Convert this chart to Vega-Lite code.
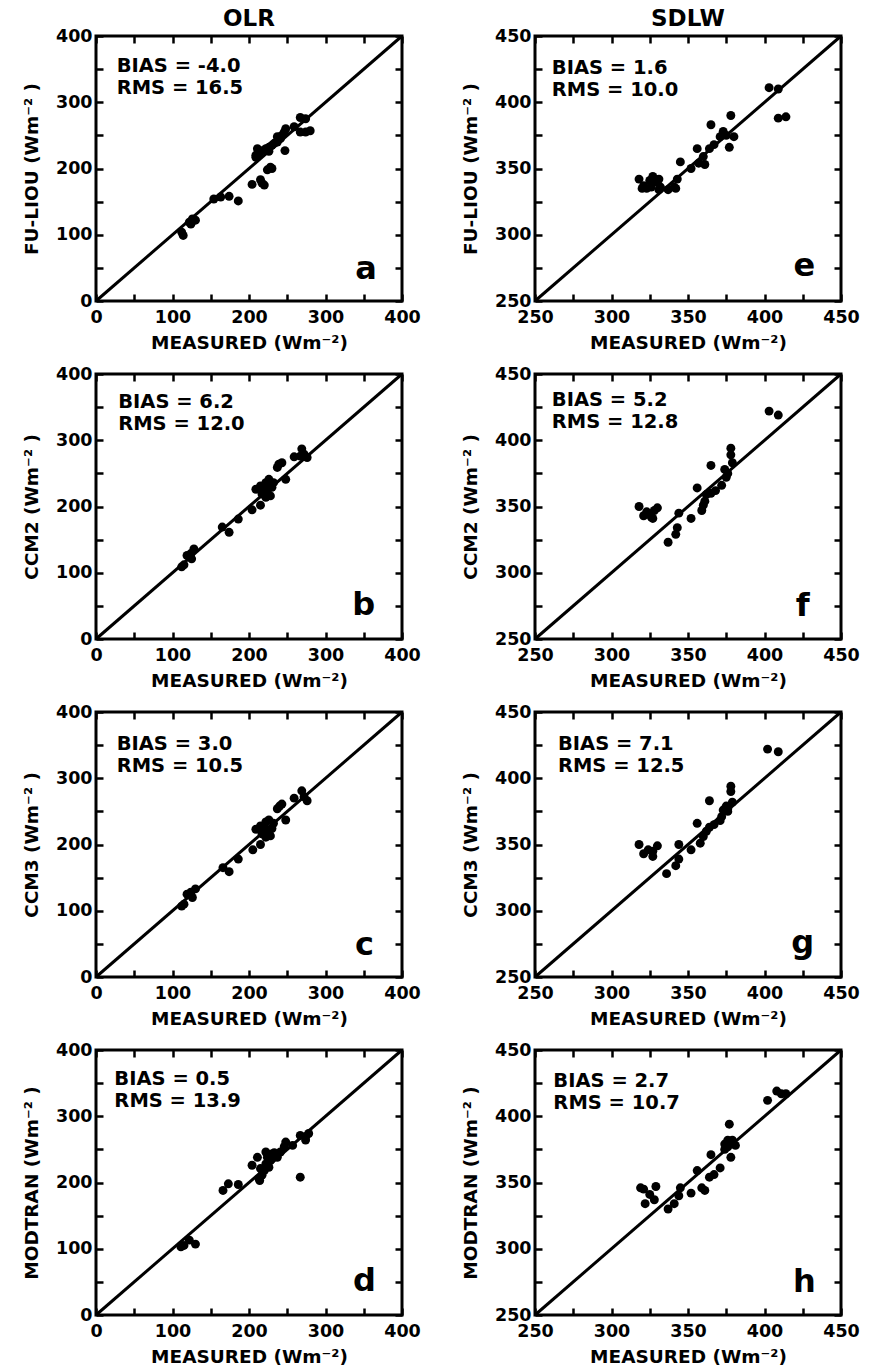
{
  "$schema": "https://vega.github.io/schema/vega-lite/v6.json",
  "background": "white",
  "padding": {"left": 20, "top": 6, "right": 5, "bottom": 0},
  "config": {
    "view": {"stroke": "black", "strokeWidth": 3},
    "axis": {"labelFont": "DejaVu Sans", "labelFontWeight": "bold", "labelFontSize": 17.5, "labelColor": "black", "titleFont": "DejaVu Sans", "titleFontWeight": "bold", "titleFontSize": 18.5, "titleColor": "black", "tickColor": "black", "tickWidth": 2.5, "tickSize": 7, "offset": -7, "domain": false, "grid": false, "labelFlush": false, "labelOverlap": false, "labelPadding": 7, "titlePadding": 8},
    "axisY": {"labelPadding": 4, "titlePadding": 14},
    "title": {"font": "DejaVu Sans", "fontWeight": "bold", "fontSize": 23, "color": "black", "offset": -4}
  },
  "data": {"values": [
    {"panel":"a","measured":112,"model":104},{"panel":"a","measured":114,"model":99},{"panel":"a","measured":122,"model":119},{"panel":"a","measured":126,"model":124},{"panel":"a","measured":130,"model":122},{"panel":"a","measured":124,"model":116},{"panel":"a","measured":154,"model":154},{"panel":"a","measured":163,"model":157},{"panel":"a","measured":174,"model":158},{"panel":"a","measured":186,"model":151},{"panel":"a","measured":204,"model":176},{"panel":"a","measured":217,"model":178},{"panel":"a","measured":215,"model":183},{"panel":"a","measured":220,"model":175},{"panel":"a","measured":209,"model":220},{"panel":"a","measured":213,"model":223},{"panel":"a","measured":217,"model":227},{"panel":"a","measured":222,"model":230},{"panel":"a","measured":226,"model":232},{"panel":"a","measured":230,"model":235},{"panel":"a","measured":237,"model":240},{"panel":"a","measured":241,"model":245},{"panel":"a","measured":243,"model":250},{"panel":"a","measured":237,"model":248},{"panel":"a","measured":246,"model":255},{"panel":"a","measured":248,"model":260},{"panel":"a","measured":224,"model":198},{"panel":"a","measured":230,"model":200},{"panel":"a","measured":228,"model":202},{"panel":"a","measured":247,"model":227},{"panel":"a","measured":259,"model":263},{"panel":"a","measured":267,"model":277},{"panel":"a","measured":274,"model":275},{"panel":"a","measured":267,"model":255},{"panel":"a","measured":274,"model":255},{"panel":"a","measured":280,"model":257},{"panel":"a","measured":211,"model":230},{"panel":"a","measured":209,"model":217},{"panel":"a","measured":233,"model":238},{"panel":"a","measured":226,"model":226},
    {"panel":"b","measured":112,"model":109},{"panel":"b","measured":115,"model":112},{"panel":"b","measured":119,"model":126},{"panel":"b","measured":125,"model":121},{"panel":"b","measured":128,"model":136},{"panel":"b","measured":124,"model":129},{"panel":"b","measured":165,"model":169},{"panel":"b","measured":174,"model":161},{"panel":"b","measured":186,"model":181},{"panel":"b","measured":204,"model":195},{"panel":"b","measured":215,"model":202},{"panel":"b","measured":209,"model":226},{"panel":"b","measured":215,"model":231},{"panel":"b","measured":222,"model":236},{"panel":"b","measured":217,"model":219},{"panel":"b","measured":224,"model":224},{"panel":"b","measured":228,"model":216},{"panel":"b","measured":226,"model":241},{"panel":"b","measured":230,"model":229},{"panel":"b","measured":237,"model":259},{"panel":"b","measured":243,"model":266},{"panel":"b","measured":239,"model":264},{"panel":"b","measured":248,"model":241},{"panel":"b","measured":259,"model":275},{"panel":"b","measured":269,"model":287},{"panel":"b","measured":272,"model":279},{"panel":"b","measured":276,"model":274},{"panel":"b","measured":267,"model":276},{"panel":"b","measured":222,"model":214},{"panel":"b","measured":220,"model":229},{"panel":"b","measured":232,"model":236},
    {"panel":"c","measured":112,"model":107},{"panel":"c","measured":115,"model":110},{"panel":"c","measured":119,"model":125},{"panel":"c","measured":126,"model":120},{"panel":"c","measured":130,"model":133},{"panel":"c","measured":124,"model":128},{"panel":"c","measured":166,"model":165},{"panel":"c","measured":174,"model":159},{"panel":"c","measured":186,"model":178},{"panel":"c","measured":205,"model":192},{"panel":"c","measured":215,"model":200},{"panel":"c","measured":209,"model":223},{"panel":"c","measured":215,"model":228},{"panel":"c","measured":222,"model":234},{"panel":"c","measured":217,"model":216},{"panel":"c","measured":224,"model":221},{"panel":"c","measured":228,"model":213},{"panel":"c","measured":226,"model":237},{"panel":"c","measured":237,"model":254},{"panel":"c","measured":243,"model":261},{"panel":"c","measured":248,"model":237},{"panel":"c","measured":259,"model":270},{"panel":"c","measured":269,"model":281},{"panel":"c","measured":272,"model":272},{"panel":"c","measured":276,"model":266},{"panel":"c","measured":222,"model":211},{"panel":"c","measured":220,"model":226},{"panel":"c","measured":232,"model":232},{"panel":"c","measured":240,"model":258},{"panel":"c","measured":230,"model":224},
    {"panel":"d","measured":111,"model":103},{"panel":"d","measured":115,"model":105},{"panel":"d","measured":122,"model":113},{"panel":"d","measured":130,"model":107},{"panel":"d","measured":166,"model":188},{"panel":"d","measured":173,"model":198},{"panel":"d","measured":186,"model":197},{"panel":"d","measured":204,"model":226},{"panel":"d","measured":213,"model":206},{"panel":"d","measured":217,"model":211},{"panel":"d","measured":215,"model":221},{"panel":"d","measured":222,"model":228},{"panel":"d","measured":226,"model":223},{"panel":"d","measured":224,"model":238},{"panel":"d","measured":230,"model":243},{"panel":"d","measured":228,"model":233},{"panel":"d","measured":237,"model":238},{"panel":"d","measured":241,"model":246},{"panel":"d","measured":246,"model":254},{"panel":"d","measured":248,"model":261},{"panel":"d","measured":257,"model":256},{"panel":"d","measured":267,"model":208},{"panel":"d","measured":267,"model":271},{"panel":"d","measured":274,"model":269},{"panel":"d","measured":278,"model":274},{"panel":"d","measured":274,"model":264},{"panel":"d","measured":211,"model":238},{"panel":"d","measured":222,"model":246},{"panel":"d","measured":214,"model":203},{"panel":"d","measured":233,"model":245},{"panel":"d","measured":220,"model":218},
    {"panel":"e","measured":318,"model":342},{"panel":"e","measured":321,"model":337},{"panel":"e","measured":325,"model":341},{"panel":"e","measured":320,"model":335},{"panel":"e","measured":323,"model":335},{"panel":"e","measured":327,"model":344},{"panel":"e","measured":329,"model":340},{"panel":"e","measured":331,"model":342},{"panel":"e","measured":326,"model":336},{"panel":"e","measured":331,"model":334},{"panel":"e","measured":337,"model":334},{"panel":"e","measured":332,"model":336},{"panel":"e","measured":341,"model":336},{"panel":"e","measured":343,"model":342},{"panel":"e","measured":342,"model":335},{"panel":"e","measured":345,"model":355},{"panel":"e","measured":352,"model":350},{"panel":"e","measured":356,"model":365},{"panel":"e","measured":360,"model":359},{"panel":"e","measured":361,"model":353},{"panel":"e","measured":357,"model":354},{"panel":"e","measured":365,"model":383},{"panel":"e","measured":364,"model":365},{"panel":"e","measured":367,"model":368},{"panel":"e","measured":371,"model":374},{"panel":"e","measured":373,"model":378},{"panel":"e","measured":375,"model":375},{"panel":"e","measured":377,"model":366},{"panel":"e","measured":378,"model":390},{"panel":"e","measured":380,"model":374},{"panel":"e","measured":403,"model":411},{"panel":"e","measured":409,"model":410},{"panel":"e","measured":409,"model":388},{"panel":"e","measured":414,"model":389},
    {"panel":"f","measured":318,"model":350},{"panel":"f","measured":321,"model":343},{"panel":"f","measured":323,"model":346},{"panel":"f","measured":326,"model":342},{"panel":"f","measured":328,"model":347},{"panel":"f","measured":330,"model":349},{"panel":"f","measured":327,"model":341},{"panel":"f","measured":337,"model":323},{"panel":"f","measured":342,"model":329},{"panel":"f","measured":343,"model":334},{"panel":"f","measured":344,"model":345},{"panel":"f","measured":352,"model":341},{"panel":"f","measured":356,"model":364},{"panel":"f","measured":359,"model":347},{"panel":"f","measured":361,"model":354},{"panel":"f","measured":362,"model":359},{"panel":"f","measured":365,"model":360},{"panel":"f","measured":368,"model":362},{"panel":"f","measured":365,"model":381},{"panel":"f","measured":372,"model":366},{"panel":"f","measured":374,"model":378},{"panel":"f","measured":376,"model":375},{"panel":"f","measured":378,"model":394},{"panel":"f","measured":378,"model":389},{"panel":"f","measured":379,"model":383},{"panel":"f","measured":403,"model":422},{"panel":"f","measured":409,"model":419},{"panel":"f","measured":360,"model":351},{"panel":"f","measured":375,"model":372},
    {"panel":"g","measured":318,"model":350},{"panel":"g","measured":321,"model":343},{"panel":"g","measured":324,"model":346},{"panel":"g","measured":327,"model":341},{"panel":"g","measured":330,"model":349},{"panel":"g","measured":327,"model":345},{"panel":"g","measured":336,"model":328},{"panel":"g","measured":342,"model":334},{"panel":"g","measured":344,"model":339},{"panel":"g","measured":344,"model":350},{"panel":"g","measured":352,"model":346},{"panel":"g","measured":356,"model":366},{"panel":"g","measured":358,"model":351},{"panel":"g","measured":360,"model":356},{"panel":"g","measured":362,"model":360},{"panel":"g","measured":364,"model":363},{"panel":"g","measured":367,"model":365},{"panel":"g","measured":364,"model":383},{"panel":"g","measured":372,"model":371},{"panel":"g","measured":373,"model":376},{"panel":"g","measured":376,"model":375},{"panel":"g","measured":378,"model":394},{"panel":"g","measured":378,"model":390},{"panel":"g","measured":379,"model":382},{"panel":"g","measured":376,"model":377},{"panel":"g","measured":402,"model":422},{"panel":"g","measured":409,"model":420},{"panel":"g","measured":371,"model":368},{"panel":"g","measured":375,"model":379},
    {"panel":"h","measured":319,"model":346},{"panel":"h","measured":322,"model":334},{"panel":"h","measured":325,"model":341},{"panel":"h","measured":329,"model":347},{"panel":"h","measured":328,"model":337},{"panel":"h","measured":321,"model":345},{"panel":"h","measured":337,"model":330},{"panel":"h","measured":341,"model":334},{"panel":"h","measured":344,"model":340},{"panel":"h","measured":345,"model":346},{"panel":"h","measured":352,"model":342},{"panel":"h","measured":356,"model":359},{"panel":"h","measured":359,"model":346},{"panel":"h","measured":361,"model":344},{"panel":"h","measured":364,"model":354},{"panel":"h","measured":365,"model":371},{"panel":"h","measured":367,"model":356},{"panel":"h","measured":371,"model":361},{"panel":"h","measured":374,"model":379},{"panel":"h","measured":376,"model":377},{"panel":"h","measured":377,"model":394},{"panel":"h","measured":378,"model":369},{"panel":"h","measured":379,"model":382},{"panel":"h","measured":381,"model":378},{"panel":"h","measured":402,"model":412},{"panel":"h","measured":408,"model":419},{"panel":"h","measured":411,"model":417},{"panel":"h","measured":414,"model":417},{"panel":"h","measured":376,"model":382},{"panel":"h","measured":374,"model":375}
  ]},
  "columns": 2,
  "align": "each",
  "spacing": {"row": 9, "column": 37},
  "concat": [
    {
      "width": 306, "height": 265,
      "title": {"text": "OLR"},
      "layer": [
        {"transform": [{"filter": "datum.panel === 'a'"}], "mark": {"type": "circle", "size": 80, "color": "black", "opacity": 1},
         "encoding": {
           "x": {"field": "measured", "type": "quantitative", "scale": {"domain": [0, 400], "nice": false, "zero": false}, "axis": {"orient": "bottom", "values": [0,50,100,150,200,250,300,350,400], "labelExpr": "datum.value % 100 === 0 ? datum.label : ''", "title": "MEASURED (Wm⁻²)"}},
           "y": {"field": "model", "type": "quantitative", "scale": {"domain": [0, 400], "nice": false, "zero": false}, "axis": {"orient": "left", "values": [0,50,100,150,200,250,300,350,400], "labelExpr": "datum.value % 100 === 0 ? datum.label : ''", "title": "FU-LIOU (Wm⁻² )"}}}},
        {"data": {"values": [{}]}, "mark": {"type": "rule", "color": "black", "strokeWidth": 3},
         "encoding": {
           "x": {"datum": 0, "type": "quantitative", "scale": {"domain": [0, 400], "nice": false, "zero": false}, "axis": {"orient": "top", "values": [0,50,100,150,200,250,300,350,400], "labels": false, "title": null}},
           "y": {"datum": 0, "type": "quantitative", "scale": {"domain": [0, 400], "nice": false, "zero": false}, "axis": {"orient": "right", "values": [0,50,100,150,200,250,300,350,400], "labels": false, "title": null}},
           "x2": {"datum": 400}, "y2": {"datum": 400}}},
        {"data": {"values": [{}]}, "mark": {"type": "text", "text": ["BIAS = -4.0", "RMS = 16.5"], "align": "left", "baseline": "alphabetic", "fontSize": 19.5, "lineHeight": 22, "font": "DejaVu Sans", "fontWeight": "bold", "color": "black"},
         "encoding": {"x": {"datum": 27, "type": "quantitative", "axis": null}, "y": {"datum": 345, "type": "quantitative", "axis": null}}},
        {"data": {"values": [{}]}, "mark": {"type": "text", "text": "a", "align": "center", "baseline": "alphabetic", "fontSize": 32, "font": "DejaVu Sans", "fontWeight": "bold", "color": "black"},
         "encoding": {"x": {"datum": 353, "type": "quantitative", "axis": null}, "y": {"datum": 33, "type": "quantitative", "axis": null}}}
      ],
      "resolve": {"axis": {"x": "independent", "y": "independent"}}
    },
    {
      "width": 306, "height": 265,
      "title": {"text": "SDLW"},
      "layer": [
        {"transform": [{"filter": "datum.panel === 'e'"}], "mark": {"type": "circle", "size": 80, "color": "black", "opacity": 1},
         "encoding": {
           "x": {"field": "measured", "type": "quantitative", "scale": {"domain": [250, 450], "nice": false, "zero": false}, "axis": {"orient": "bottom", "values": [250,275,300,325,350,375,400,425,450], "labelExpr": "datum.value % 50 === 0 ? datum.label : ''", "title": "MEASURED (Wm⁻²)"}},
           "y": {"field": "model", "type": "quantitative", "scale": {"domain": [250, 450], "nice": false, "zero": false}, "axis": {"orient": "left", "values": [250,275,300,325,350,375,400,425,450], "labelExpr": "datum.value % 50 === 0 ? datum.label : ''", "title": "FU-LIOU (Wm⁻² )"}}}},
        {"data": {"values": [{}]}, "mark": {"type": "rule", "color": "black", "strokeWidth": 3},
         "encoding": {
           "x": {"datum": 250, "type": "quantitative", "scale": {"domain": [250, 450], "nice": false, "zero": false}, "axis": {"orient": "top", "values": [250,275,300,325,350,375,400,425,450], "labels": false, "title": null}},
           "y": {"datum": 250, "type": "quantitative", "scale": {"domain": [250, 450], "nice": false, "zero": false}, "axis": {"orient": "right", "values": [250,275,300,325,350,375,400,425,450], "labels": false, "title": null}},
           "x2": {"datum": 450}, "y2": {"datum": 450}}},
        {"data": {"values": [{}]}, "mark": {"type": "text", "text": ["BIAS = 1.6", "RMS = 10.0"], "align": "left", "baseline": "alphabetic", "fontSize": 19.5, "lineHeight": 22, "font": "DejaVu Sans", "fontWeight": "bold", "color": "black"},
         "encoding": {"x": {"datum": 261, "type": "quantitative", "axis": null}, "y": {"datum": 421, "type": "quantitative", "axis": null}}},
        {"data": {"values": [{}]}, "mark": {"type": "text", "text": "e", "align": "center", "baseline": "alphabetic", "fontSize": 32, "font": "DejaVu Sans", "fontWeight": "bold", "color": "black"},
         "encoding": {"x": {"datum": 426, "type": "quantitative", "axis": null}, "y": {"datum": 269, "type": "quantitative", "axis": null}}}
      ],
      "resolve": {"axis": {"x": "independent", "y": "independent"}}
    },
    {
      "width": 306, "height": 265,
      "layer": [
        {"transform": [{"filter": "datum.panel === 'b'"}], "mark": {"type": "circle", "size": 80, "color": "black", "opacity": 1},
         "encoding": {
           "x": {"field": "measured", "type": "quantitative", "scale": {"domain": [0, 400], "nice": false, "zero": false}, "axis": {"orient": "bottom", "values": [0,50,100,150,200,250,300,350,400], "labelExpr": "datum.value % 100 === 0 ? datum.label : ''", "title": "MEASURED (Wm⁻²)"}},
           "y": {"field": "model", "type": "quantitative", "scale": {"domain": [0, 400], "nice": false, "zero": false}, "axis": {"orient": "left", "values": [0,50,100,150,200,250,300,350,400], "labelExpr": "datum.value % 100 === 0 ? datum.label : ''", "title": "CCM2 (Wm⁻² )"}}}},
        {"data": {"values": [{}]}, "mark": {"type": "rule", "color": "black", "strokeWidth": 3},
         "encoding": {
           "x": {"datum": 0, "type": "quantitative", "scale": {"domain": [0, 400], "nice": false, "zero": false}, "axis": {"orient": "top", "values": [0,50,100,150,200,250,300,350,400], "labels": false, "title": null}},
           "y": {"datum": 0, "type": "quantitative", "scale": {"domain": [0, 400], "nice": false, "zero": false}, "axis": {"orient": "right", "values": [0,50,100,150,200,250,300,350,400], "labels": false, "title": null}},
           "x2": {"datum": 400}, "y2": {"datum": 400}}},
        {"data": {"values": [{}]}, "mark": {"type": "text", "text": ["BIAS = 6.2", "RMS = 12.0"], "align": "left", "baseline": "alphabetic", "fontSize": 19.5, "lineHeight": 22, "font": "DejaVu Sans", "fontWeight": "bold", "color": "black"},
         "encoding": {"x": {"datum": 29, "type": "quantitative", "axis": null}, "y": {"datum": 349, "type": "quantitative", "axis": null}}},
        {"data": {"values": [{}]}, "mark": {"type": "text", "text": "b", "align": "center", "baseline": "alphabetic", "fontSize": 32, "font": "DejaVu Sans", "fontWeight": "bold", "color": "black"},
         "encoding": {"x": {"datum": 350, "type": "quantitative", "axis": null}, "y": {"datum": 36, "type": "quantitative", "axis": null}}}
      ],
      "resolve": {"axis": {"x": "independent", "y": "independent"}}
    },
    {
      "width": 306, "height": 265,
      "layer": [
        {"transform": [{"filter": "datum.panel === 'f'"}], "mark": {"type": "circle", "size": 80, "color": "black", "opacity": 1},
         "encoding": {
           "x": {"field": "measured", "type": "quantitative", "scale": {"domain": [250, 450], "nice": false, "zero": false}, "axis": {"orient": "bottom", "values": [250,275,300,325,350,375,400,425,450], "labelExpr": "datum.value % 50 === 0 ? datum.label : ''", "title": "MEASURED (Wm⁻²)"}},
           "y": {"field": "model", "type": "quantitative", "scale": {"domain": [250, 450], "nice": false, "zero": false}, "axis": {"orient": "left", "values": [250,275,300,325,350,375,400,425,450], "labelExpr": "datum.value % 50 === 0 ? datum.label : ''", "title": "CCM2 (Wm⁻² )"}}}},
        {"data": {"values": [{}]}, "mark": {"type": "rule", "color": "black", "strokeWidth": 3},
         "encoding": {
           "x": {"datum": 250, "type": "quantitative", "scale": {"domain": [250, 450], "nice": false, "zero": false}, "axis": {"orient": "top", "values": [250,275,300,325,350,375,400,425,450], "labels": false, "title": null}},
           "y": {"datum": 250, "type": "quantitative", "scale": {"domain": [250, 450], "nice": false, "zero": false}, "axis": {"orient": "right", "values": [250,275,300,325,350,375,400,425,450], "labels": false, "title": null}},
           "x2": {"datum": 450}, "y2": {"datum": 450}}},
        {"data": {"values": [{}]}, "mark": {"type": "text", "text": ["BIAS = 5.2", "RMS = 12.8"], "align": "left", "baseline": "alphabetic", "fontSize": 19.5, "lineHeight": 22, "font": "DejaVu Sans", "fontWeight": "bold", "color": "black"},
         "encoding": {"x": {"datum": 261, "type": "quantitative", "axis": null}, "y": {"datum": 426, "type": "quantitative", "axis": null}}},
        {"data": {"values": [{}]}, "mark": {"type": "text", "text": "f", "align": "center", "baseline": "alphabetic", "fontSize": 32, "font": "DejaVu Sans", "fontWeight": "bold", "color": "black"},
         "encoding": {"x": {"datum": 425, "type": "quantitative", "axis": null}, "y": {"datum": 267, "type": "quantitative", "axis": null}}}
      ],
      "resolve": {"axis": {"x": "independent", "y": "independent"}}
    },
    {
      "width": 306, "height": 265,
      "layer": [
        {"transform": [{"filter": "datum.panel === 'c'"}], "mark": {"type": "circle", "size": 80, "color": "black", "opacity": 1},
         "encoding": {
           "x": {"field": "measured", "type": "quantitative", "scale": {"domain": [0, 400], "nice": false, "zero": false}, "axis": {"orient": "bottom", "values": [0,50,100,150,200,250,300,350,400], "labelExpr": "datum.value % 100 === 0 ? datum.label : ''", "title": "MEASURED (Wm⁻²)"}},
           "y": {"field": "model", "type": "quantitative", "scale": {"domain": [0, 400], "nice": false, "zero": false}, "axis": {"orient": "left", "values": [0,50,100,150,200,250,300,350,400], "labelExpr": "datum.value % 100 === 0 ? datum.label : ''", "title": "CCM3 (Wm⁻² )"}}}},
        {"data": {"values": [{}]}, "mark": {"type": "rule", "color": "black", "strokeWidth": 3},
         "encoding": {
           "x": {"datum": 0, "type": "quantitative", "scale": {"domain": [0, 400], "nice": false, "zero": false}, "axis": {"orient": "top", "values": [0,50,100,150,200,250,300,350,400], "labels": false, "title": null}},
           "y": {"datum": 0, "type": "quantitative", "scale": {"domain": [0, 400], "nice": false, "zero": false}, "axis": {"orient": "right", "values": [0,50,100,150,200,250,300,350,400], "labels": false, "title": null}},
           "x2": {"datum": 400}, "y2": {"datum": 400}}},
        {"data": {"values": [{}]}, "mark": {"type": "text", "text": ["BIAS = 3.0", "RMS = 10.5"], "align": "left", "baseline": "alphabetic", "fontSize": 19.5, "lineHeight": 22, "font": "DejaVu Sans", "fontWeight": "bold", "color": "black"},
         "encoding": {"x": {"datum": 27, "type": "quantitative", "axis": null}, "y": {"datum": 342, "type": "quantitative", "axis": null}}},
        {"data": {"values": [{}]}, "mark": {"type": "text", "text": "c", "align": "center", "baseline": "alphabetic", "fontSize": 32, "font": "DejaVu Sans", "fontWeight": "bold", "color": "black"},
         "encoding": {"x": {"datum": 351, "type": "quantitative", "axis": null}, "y": {"datum": 33, "type": "quantitative", "axis": null}}}
      ],
      "resolve": {"axis": {"x": "independent", "y": "independent"}}
    },
    {
      "width": 306, "height": 265,
      "layer": [
        {"transform": [{"filter": "datum.panel === 'g'"}], "mark": {"type": "circle", "size": 80, "color": "black", "opacity": 1},
         "encoding": {
           "x": {"field": "measured", "type": "quantitative", "scale": {"domain": [250, 450], "nice": false, "zero": false}, "axis": {"orient": "bottom", "values": [250,275,300,325,350,375,400,425,450], "labelExpr": "datum.value % 50 === 0 ? datum.label : ''", "title": "MEASURED (Wm⁻²)"}},
           "y": {"field": "model", "type": "quantitative", "scale": {"domain": [250, 450], "nice": false, "zero": false}, "axis": {"orient": "left", "values": [250,275,300,325,350,375,400,425,450], "labelExpr": "datum.value % 50 === 0 ? datum.label : ''", "title": "CCM3 (Wm⁻² )"}}}},
        {"data": {"values": [{}]}, "mark": {"type": "rule", "color": "black", "strokeWidth": 3},
         "encoding": {
           "x": {"datum": 250, "type": "quantitative", "scale": {"domain": [250, 450], "nice": false, "zero": false}, "axis": {"orient": "top", "values": [250,275,300,325,350,375,400,425,450], "labels": false, "title": null}},
           "y": {"datum": 250, "type": "quantitative", "scale": {"domain": [250, 450], "nice": false, "zero": false}, "axis": {"orient": "right", "values": [250,275,300,325,350,375,400,425,450], "labels": false, "title": null}},
           "x2": {"datum": 450}, "y2": {"datum": 450}}},
        {"data": {"values": [{}]}, "mark": {"type": "text", "text": ["BIAS = 7.1", "RMS = 12.5"], "align": "left", "baseline": "alphabetic", "fontSize": 19.5, "lineHeight": 22, "font": "DejaVu Sans", "fontWeight": "bold", "color": "black"},
         "encoding": {"x": {"datum": 265, "type": "quantitative", "axis": null}, "y": {"datum": 421, "type": "quantitative", "axis": null}}},
        {"data": {"values": [{}]}, "mark": {"type": "text", "text": "g", "align": "center", "baseline": "alphabetic", "fontSize": 32, "font": "DejaVu Sans", "fontWeight": "bold", "color": "black"},
         "encoding": {"x": {"datum": 425, "type": "quantitative", "axis": null}, "y": {"datum": 268, "type": "quantitative", "axis": null}}}
      ],
      "resolve": {"axis": {"x": "independent", "y": "independent"}}
    },
    {
      "width": 306, "height": 265,
      "layer": [
        {"transform": [{"filter": "datum.panel === 'd'"}], "mark": {"type": "circle", "size": 80, "color": "black", "opacity": 1},
         "encoding": {
           "x": {"field": "measured", "type": "quantitative", "scale": {"domain": [0, 400], "nice": false, "zero": false}, "axis": {"orient": "bottom", "values": [0,50,100,150,200,250,300,350,400], "labelExpr": "datum.value % 100 === 0 ? datum.label : ''", "title": "MEASURED (Wm⁻²)"}},
           "y": {"field": "model", "type": "quantitative", "scale": {"domain": [0, 400], "nice": false, "zero": false}, "axis": {"orient": "left", "values": [0,50,100,150,200,250,300,350,400], "labelExpr": "datum.value % 100 === 0 ? datum.label : ''", "title": "MODTRAN (Wm⁻² )"}}}},
        {"data": {"values": [{}]}, "mark": {"type": "rule", "color": "black", "strokeWidth": 3},
         "encoding": {
           "x": {"datum": 0, "type": "quantitative", "scale": {"domain": [0, 400], "nice": false, "zero": false}, "axis": {"orient": "top", "values": [0,50,100,150,200,250,300,350,400], "labels": false, "title": null}},
           "y": {"datum": 0, "type": "quantitative", "scale": {"domain": [0, 400], "nice": false, "zero": false}, "axis": {"orient": "right", "values": [0,50,100,150,200,250,300,350,400], "labels": false, "title": null}},
           "x2": {"datum": 400}, "y2": {"datum": 400}}},
        {"data": {"values": [{}]}, "mark": {"type": "text", "text": ["BIAS = 0.5", "RMS = 13.9"], "align": "left", "baseline": "alphabetic", "fontSize": 19.5, "lineHeight": 22, "font": "DejaVu Sans", "fontWeight": "bold", "color": "black"},
         "encoding": {"x": {"datum": 24, "type": "quantitative", "axis": null}, "y": {"datum": 347, "type": "quantitative", "axis": null}}},
        {"data": {"values": [{}]}, "mark": {"type": "text", "text": "d", "align": "center", "baseline": "alphabetic", "fontSize": 32, "font": "DejaVu Sans", "fontWeight": "bold", "color": "black"},
         "encoding": {"x": {"datum": 351, "type": "quantitative", "axis": null}, "y": {"datum": 36, "type": "quantitative", "axis": null}}}
      ],
      "resolve": {"axis": {"x": "independent", "y": "independent"}}
    },
    {
      "width": 306, "height": 265,
      "layer": [
        {"transform": [{"filter": "datum.panel === 'h'"}], "mark": {"type": "circle", "size": 80, "color": "black", "opacity": 1},
         "encoding": {
           "x": {"field": "measured", "type": "quantitative", "scale": {"domain": [250, 450], "nice": false, "zero": false}, "axis": {"orient": "bottom", "values": [250,275,300,325,350,375,400,425,450], "labelExpr": "datum.value % 50 === 0 ? datum.label : ''", "title": "MEASURED (Wm⁻²)"}},
           "y": {"field": "model", "type": "quantitative", "scale": {"domain": [250, 450], "nice": false, "zero": false}, "axis": {"orient": "left", "values": [250,275,300,325,350,375,400,425,450], "labelExpr": "datum.value % 50 === 0 ? datum.label : ''", "title": "MODTRAN (Wm⁻² )"}}}},
        {"data": {"values": [{}]}, "mark": {"type": "rule", "color": "black", "strokeWidth": 3},
         "encoding": {
           "x": {"datum": 250, "type": "quantitative", "scale": {"domain": [250, 450], "nice": false, "zero": false}, "axis": {"orient": "top", "values": [250,275,300,325,350,375,400,425,450], "labels": false, "title": null}},
           "y": {"datum": 250, "type": "quantitative", "scale": {"domain": [250, 450], "nice": false, "zero": false}, "axis": {"orient": "right", "values": [250,275,300,325,350,375,400,425,450], "labels": false, "title": null}},
           "x2": {"datum": 450}, "y2": {"datum": 450}}},
        {"data": {"values": [{}]}, "mark": {"type": "text", "text": ["BIAS = 2.7", "RMS = 10.7"], "align": "left", "baseline": "alphabetic", "fontSize": 19.5, "lineHeight": 22, "font": "DejaVu Sans", "fontWeight": "bold", "color": "black"},
         "encoding": {"x": {"datum": 262, "type": "quantitative", "axis": null}, "y": {"datum": 422, "type": "quantitative", "axis": null}}},
        {"data": {"values": [{}]}, "mark": {"type": "text", "text": "h", "align": "center", "baseline": "alphabetic", "fontSize": 32, "font": "DejaVu Sans", "fontWeight": "bold", "color": "black"},
         "encoding": {"x": {"datum": 426, "type": "quantitative", "axis": null}, "y": {"datum": 267, "type": "quantitative", "axis": null}}}
      ],
      "resolve": {"axis": {"x": "independent", "y": "independent"}}
    }
  ]
}
